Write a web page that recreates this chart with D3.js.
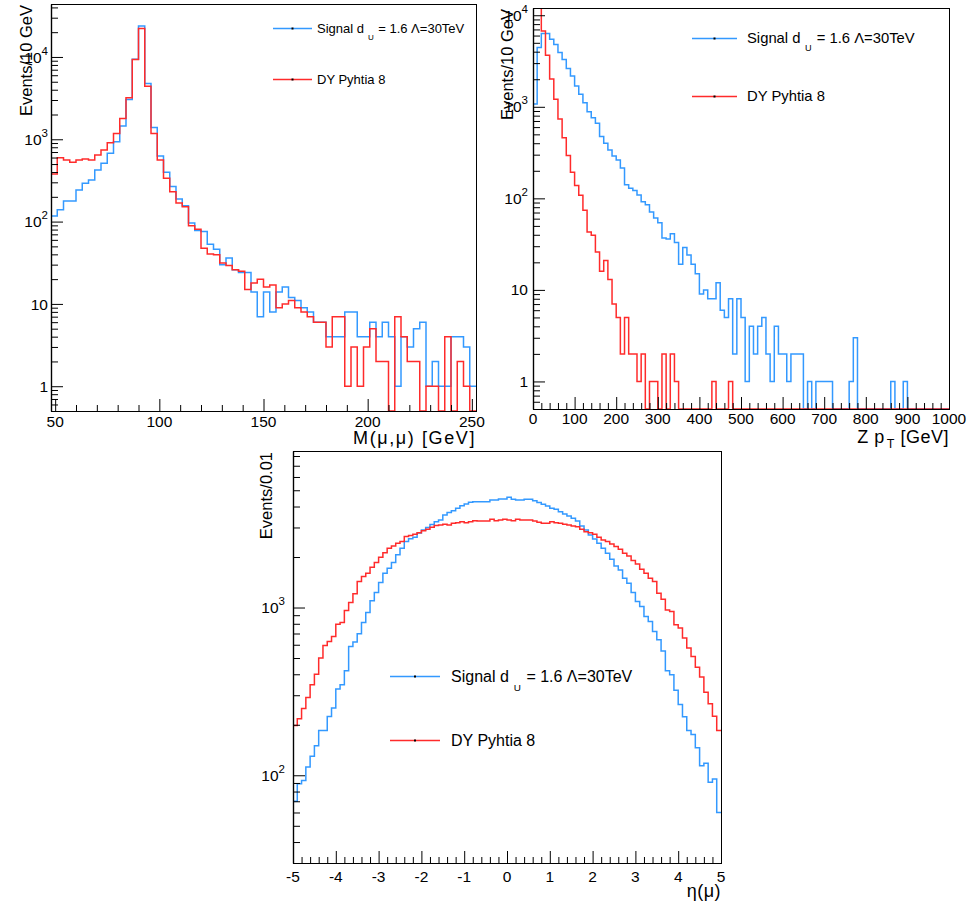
<!DOCTYPE html>
<html>
<head>
<meta charset="utf-8">
<script src="https://cdn.jsdelivr.net/npm/d3@7"></script>
<style>
body { margin: 0; background: #fff; }
svg text { font-family: "Liberation Sans", Arial, Helvetica, sans-serif; fill: #000; }
</style>
</head>
<body>
<div id="chart-area"></div>
<script>
// ---- data ----
// dimuon mass, 68 bins of 3 GeV
let massRange = [48, 252];
let massSignal = [117, 139, 178, 178, 242, 292, 320, 424, 510, 675,
	933, 1445, 3050, 9350, 23800, 4750, 1393, 625, 397, 266,
	188, 156, 96, 78, 76, 53, 46, 30, 36, 26,
	24, 24, 14, 7, 14, 8, 14, 16, 12, 11,
	9, 8, 6, 6, 4, 4, 4, 8, 8, 4,
	4, 6, 4, 6, 4, 1, 4, 3, 5, 6,
	1, 2, 1, 1, 4, 4, 3, 1];
let massDY = [378, 597, 560, 525, 560, 575, 560, 643, 740, 907,
	1175, 1790, 3185, 9300, 22100, 4415, 1175, 560, 336, 231,
	168, 152, 89, 81, 47.6, 40.5, 39.5, 31.3, 29.3, 26,
	25, 15, 18, 20, 16, 17, 9, 10, 11, 9,
	8, 7, 6, 6, 3, 7, 7, 1, 3, 1,
	3, 5, 2, 2, 0, 7, 4, 2, 2, 0,
	1, 1, 0, 4, 0, 2, 1, 0];
let massTicks = [50, 100, 150, 200, 250];

// Z pT, 100 bins of 10 GeV
let ptRange = [0, 1000];
let ptSignal = [1073, 4450, 6320, 6320, 5480, 4800, 3930, 3290, 2625, 2165,
	1686, 1370, 1110, 885, 761, 660, 473, 400, 338, 291,
	263, 214, 141, 129, 122, 109, 92, 85, 71, 61,
	54, 37, 36, 41, 33, 19, 29, 24, 19, 15,
	9, 10, 8, 8, 12, 6, 5, 8, 2, 8,
	5, 1, 4, 2, 4, 5, 2, 1, 4, 2,
	2, 1, 2, 2, 2, 0, 1, 0, 1, 1,
	1, 1, 0, 0, 0, 0, 1, 3, 0, 0,
	0, 0, 0, 0, 0, 0, 1, 0, 0, 1,
	0, 0, 0, 0, 0, 0, 0, 0, 0, 0];
let ptDY = [15000, 12500, 6745, 3660, 2010, 1208, 736, 460, 293, 193,
	138, 108, 74, 43, 39.5, 26, 16, 21, 13, 7,
	5, 2, 5, 2, 2, 1, 2, 0, 1, 1,
	0, 2, 0, 2, 1, 0, 0, 0, 0, 0,
	0, 0, 0, 1, 0, 0, 0, 1, 0, 0,
	0, 0, 0, 0, 0, 0, 0, 0, 0, 0,
	0, 0, 0, 0, 0, 0, 0, 0, 0, 0,
	0, 0, 0, 0, 0, 0, 0, 0, 0, 0,
	0, 0, 0, 0, 0, 0, 0, 0, 0, 0,
	0, 0, 0, 0, 0, 0, 0, 0, 0, 0];
let ptTicks = [0, 100, 200, 300, 400, 500, 600, 700, 800, 900, 1000];

// muon eta, 100 bins of 0.1
let etaRange = [-5, 5];
let etaSignal = [70, 89, 93, 112, 130, 150, 185, 185, 224, 252,
	327, 347, 420, 586, 622, 697, 815, 934, 1096, 1228,
	1408, 1602, 1716, 1852, 2060, 2258, 2473, 2566, 2625, 2780,
	2900, 3000, 3120, 3240, 3325, 3565, 3680, 3775, 3900, 4045,
	4140, 4240, 4270, 4270, 4275, 4275, 4375, 4375, 4435, 4435,
	4540, 4420, 4375, 4375, 4420, 4420, 4335, 4220, 4125, 4025,
	3905, 3850, 3725, 3610, 3515, 3405, 3283, 3065, 2900, 2710,
	2565, 2418, 2258, 2108, 1941, 1771, 1676, 1496, 1396, 1228,
	1086, 1014, 884, 825, 720, 642, 550, 420, 398, 321,
	264, 223, 185, 175, 146, 114, 118, 91, 95, 60];
let etaDY = [198, 217, 250, 291, 347, 400, 500, 594, 628, 672,
	796, 815, 960, 1071, 1207, 1430, 1530, 1602, 1740, 1852,
	1996, 2124, 2258, 2328, 2418, 2473, 2650, 2690, 2735, 2795,
	2870, 2930, 3010, 3078, 3100, 3134, 3100, 3180, 3200, 3245,
	3200, 3245, 3290, 3283, 3283, 3283, 3360, 3290, 3325, 3360,
	3325, 3290, 3360, 3325, 3325, 3325, 3283, 3222, 3180, 3180,
	3245, 3200, 3180, 3134, 3100, 3065, 3035, 2930, 2833, 2795,
	2735, 2625, 2530, 2473, 2392, 2307, 2226, 2108, 2030, 1906,
	1820, 1693, 1602, 1496, 1430, 1218, 1122, 968, 946, 789,
	754, 657, 573, 511, 440, 385, 313, 267, 225, 185];
let etaTicks = [-5, -4, -3, -2, -1, 0, 1, 2, 3, 4, 5];

let legendNames = ["Signal", "DY Pyhtia 8"];
let colors = ["#3399ff", "#ff2b2b"];

let svg = d3.select("#chart-area").append("svg")
	.attr("width", 971)
	.attr("height", 907);

svg.append("rect").attr("width", 971).attr("height", 907).attr("fill", "#fff");

let panels = [
	{ id: "mass", left: 51, right: 476, top: 4, bottom: 411,
	  xDomain: massRange, yDomain: [0.5, 44000], hists: [massSignal, massDY],
	  xMajor: massTicks, xMinor: 10, labelGap: 3, xLabelY: 16,
	  yTitle: "Events/10 GeV", yTitleX: 31.5, xTitle: ["M(μ,μ) [GeV]"], xTitleY: 444, xTitleSpacing: 1.6,
	  legend: { x1: 273, x2: 312, tx: 317, ys: [28, 79], size: 13 } },
	{ id: "pt", left: 533, right: 949, top: 8, bottom: 409,
	  xDomain: ptRange, yDomain: [0.5, 12000], hists: [ptSignal, ptDY],
	  xMajor: ptTicks, xMinor: 20, labelGap: 5, xLabelY: 15,
	  yTitle: "Events/10 GeV", yTitleX: 513, xTitle: ["Z p", "T", " [GeV]"], xTitleY: 443, xTitleSpacing: 0.5,
	  legend: { x1: 692, x2: 737, tx: 747, ys: [38, 96], size: 14.8 } },
	{ id: "eta", left: 293, right: 721, top: 451, bottom: 863,
	  xDomain: etaRange, yDomain: [30, 8570], hists: [etaSignal, etaDY],
	  xMajor: etaTicks, xMinor: 0.2, labelGap: 8, xLabelY: 19,
	  yTitle: "Events/0.01", yTitleX: 272, xTitle: ["η(μ)"], xTitleY: 897, xTitleSpacing: 0.5,
	  legend: { x1: 390, x2: 440, tx: 451, ys: [676, 740], size: 16 } }
];

panels.forEach((p) => {
	let x = d3.scaleLinear().domain(p.xDomain).range([p.left, p.right]);
	let y = d3.scaleLog().domain(p.yDomain).range([p.bottom, p.top]).clamp(true);
	let g = svg.append("g").attr("class", "panel " + p.id);

	g.append("clipPath").attr("id", "clip-" + p.id)
		.append("rect")
		.attr("x", p.left).attr("y", p.top)
		.attr("width", p.right - p.left).attr("height", p.bottom - p.top);

	// histograms as step outlines
	p.hists.forEach((vals, i) => {
		let w = (p.xDomain[1] - p.xDomain[0]) / vals.length;
		let pts = vals.map((v, k) => [p.xDomain[0] + k * w, v]);
		pts.push([p.xDomain[1], vals[vals.length - 1]]);
		let line = d3.line()
			.x((d) => x(d[0]))
			.y((d) => y(d[1]))
			.curve(d3.curveStepAfter);
		g.append("path")
			.attr("clip-path", "url(#clip-" + p.id + ")")
			.attr("d", line(pts))
			.attr("fill", "none")
			.attr("stroke", colors[i])
			.attr("stroke-width", 1.5);
	});

	// frame
	g.append("rect")
		.attr("x", p.left + 0.5).attr("y", p.top + 0.5)
		.attr("width", p.right - p.left).attr("height", p.bottom - p.top)
		.attr("fill", "none").attr("stroke", "#000").attr("stroke-width", 1);

	// y axis: log ticks pointing inward
	let lo = Math.floor(Math.log10(p.yDomain[0])), hi = Math.ceil(Math.log10(p.yDomain[1]));
	let minor = [], major = [];
	for (let e = lo; e <= hi; e++) {
		for (let m = 1; m <= 9; m++) {
			let v = m * Math.pow(10, e);
			if (v < p.yDomain[0] || v > p.yDomain[1]) continue;
			(m === 1 ? major : minor).push(v);
		}
	}
	let yAxisG = g.append("g").attr("transform", "translate(" + p.left + ",0)");
	yAxisG.append("g").call(d3.axisLeft(y).tickValues(minor).tickSize(-7).tickSizeOuter(0).tickFormat(""));
	yAxisG.append("g").call(d3.axisLeft(y).tickValues(major).tickSize(-12).tickSizeOuter(0).tickFormat(""));
	yAxisG.selectAll("path.domain").attr("stroke-width", 1.2);

	major.forEach((v) => {
		let e = Math.round(Math.log10(v));
		let t = g.append("text")
			.attr("x", p.left - p.labelGap)
			.attr("y", y(v) + 5.6)
			.attr("text-anchor", "end")
			.attr("font-size", "15.5px");
		if (e <= 1) {
			t.text(v);
		} else {
			t.append("tspan").text("10");
			t.append("tspan").attr("dy", -8).attr("font-size", "11.5px").text(e);
		}
	});

	// x axis
	let xMinorVals = d3.range(Math.ceil(p.xDomain[0] / p.xMinor) * p.xMinor, p.xDomain[1] + 1e-9, p.xMinor)
		.filter((v) => !p.xMajor.some((m) => Math.abs(m - v) < 1e-6));
	let xAxisG = g.append("g").attr("transform", "translate(0," + p.bottom + ")");
	xAxisG.append("g").call(d3.axisBottom(x).tickValues(xMinorVals).tickSize(-6).tickSizeOuter(0).tickFormat(""));
	xAxisG.append("g").call(d3.axisBottom(x).tickValues(p.xMajor).tickSize(-12).tickSizeOuter(0).tickFormat(""));
	xAxisG.selectAll("path.domain").attr("stroke-width", 1.2);

	p.xMajor.forEach((v) => {
		g.append("text")
			.attr("x", x(v))
			.attr("y", p.bottom + p.xLabelY)
			.attr("text-anchor", "middle")
			.attr("font-size", "15.5px")
			.text(v);
	});

	// axis titles
	g.append("text")
		.attr("transform", "translate(" + p.yTitleX + "," + (p.top + 1) + ") rotate(-90)")
		.attr("text-anchor", "end")
		.attr("font-size", "16.5px")
		.text(p.yTitle);

	let xt = g.append("text")
		.attr("x", p.right)
		.attr("y", p.xTitleY)
		.attr("text-anchor", "end")
		.attr("font-size", "18px")
		.attr("letter-spacing", p.xTitleSpacing);
	xt.append("tspan").text(p.xTitle[0]);
	if (p.xTitle.length > 1) {
		xt.append("tspan").attr("dx", 2).attr("dy", 5).attr("font-size", "12.5px").text(p.xTitle[1]);
		xt.append("tspan").attr("dy", -5).text(p.xTitle[2]);
	}

	// legend
	let L = p.legend;
	L.ys.forEach((ly, i) => {
		g.append("line")
			.attr("x1", L.x1).attr("x2", L.x2)
			.attr("y1", ly + 0.5).attr("y2", ly + 0.5)
			.attr("stroke", colors[i]).attr("stroke-width", 1.5);
		g.append("rect")
			.attr("x", (L.x1 + L.x2) / 2 - 1).attr("y", ly - 0.5)
			.attr("width", 2).attr("height", 2).attr("fill", "#000");
		let t = g.append("text")
			.attr("x", L.tx)
			.attr("y", ly + L.size * 0.36)
			.attr("font-size", L.size + "px");
		if (i === 0) {
			t.append("tspan").text(legendNames[0] + " d");
			t.append("tspan").attr("dx", L.size * 0.3).attr("dy", L.size * 0.55)
				.attr("font-size", (L.size * 0.62) + "px").text("U");
			t.append("tspan").attr("dx", L.size * 0.35).attr("dy", -L.size * 0.55).text("= 1.6 Λ=30TeV");
		} else {
			t.text(legendNames[1]);
		}
	});
});
</script>
</body>
</html>
